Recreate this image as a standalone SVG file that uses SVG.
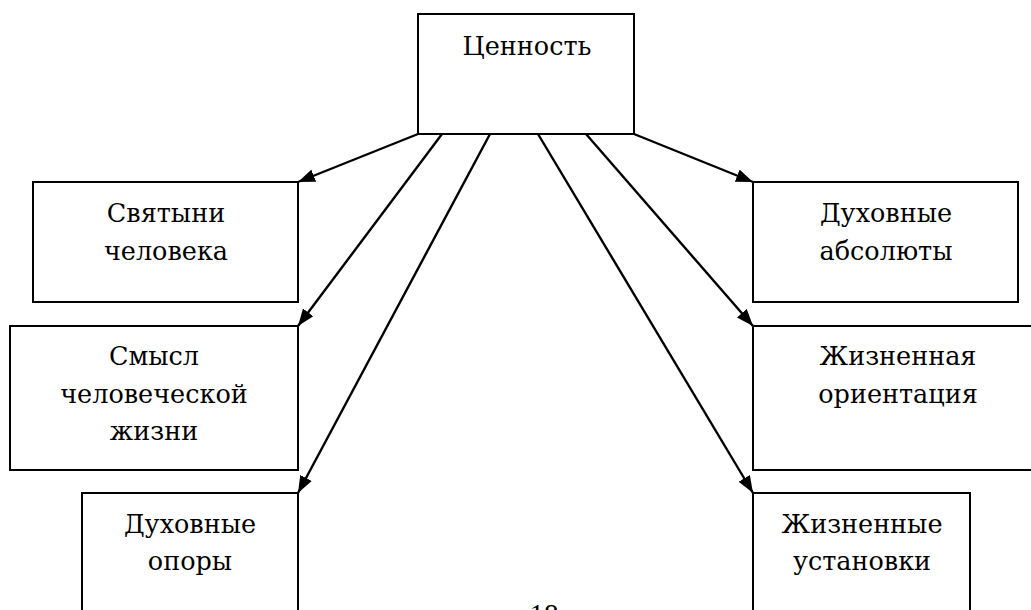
<svg xmlns="http://www.w3.org/2000/svg" width="1031" height="610" viewBox="0 0 1031 610">
<defs>
<marker id="arr" viewBox="0 0 17 13" refX="17" refY="6.5" markerWidth="17" markerHeight="13" markerUnits="userSpaceOnUse" orient="auto">
<path d="M0,0 L17,6.5 L0,13 Z" fill="#000"/>
</marker>
<style>
.box{fill:#fff;stroke:#000;stroke-width:2}
.t{font-family:'DejaVu Serif',serif;font-size:25.5px;fill:#000;text-anchor:middle}
.c{stroke:#000;stroke-width:2.4;fill:none;marker-end:url(#arr)}
</style>
</defs>
<rect width="1031" height="610" fill="#fff"/>
<g id="connectors">
<line class="c" x1="418" y1="134" x2="298" y2="182"/>
<line class="c" x1="442" y1="134" x2="298" y2="326"/>
<line class="c" x1="490" y1="134" x2="298" y2="493"/>
<line class="c" x1="538" y1="134" x2="753" y2="493"/>
<line class="c" x1="586" y1="134" x2="753" y2="326"/>
<line class="c" x1="634" y1="134" x2="753" y2="182"/>
</g>
<g id="n-value">
<rect class="box" x="418" y="14" width="216" height="120"/>
<text class="t" x="527" y="55">Ценность</text>
</g>
<g id="n-svyatyni">
<rect class="box" x="33" y="182" width="265" height="120"/>
<text class="t" x="166" y="222">Святыни</text>
<text class="t" x="166" y="260">человека</text>
</g>
<g id="n-smysl">
<rect class="box" x="10" y="326" width="288" height="144"/>
<text class="t" x="154" y="365">Смысл</text>
<text class="t" x="154" y="403">человеческой</text>
<text class="t" x="154" y="440">жизни</text>
</g>
<g id="n-opory">
<rect class="box" x="82" y="493" width="216" height="140"/>
<text class="t" x="190" y="533">Духовные</text>
<text class="t" x="190" y="570">опоры</text>
</g>
<g id="n-absolyuty">
<rect class="box" x="753" y="182" width="265" height="120"/>
<text class="t" x="886" y="222">Духовные</text>
<text class="t" x="886" y="260">абсолюты</text>
</g>
<g id="n-orientaciya">
<rect class="box" x="753" y="326" width="300" height="144"/>
<text class="t" x="898" y="365">Жизненная</text>
<text class="t" x="898" y="403">ориентация</text>
</g>
<g id="n-ustanovki">
<rect class="box" x="753" y="493" width="217" height="140"/>
<text class="t" x="862" y="533">Жизненные</text>
<text class="t" x="862" y="570">установки</text>
</g>
<text x="544" y="624" font-family="Liberation Serif, serif" font-size="29" text-anchor="middle">18</text>
</svg>
